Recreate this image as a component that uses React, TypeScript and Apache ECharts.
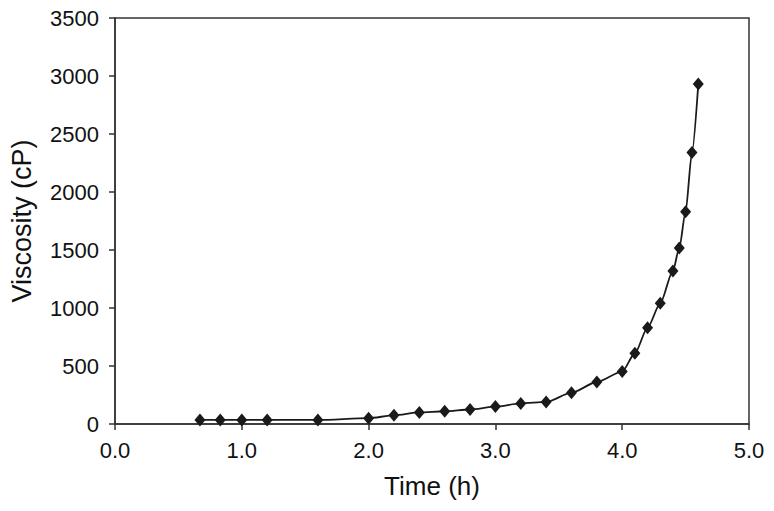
import React, { useEffect, useRef } from "react";
import * as echarts from "echarts";

const timeHours = [0.67, 0.83, 1.0, 1.2, 1.6, 2.0, 2.2, 2.4, 2.6, 2.8, 3.0, 3.2, 3.4, 3.6, 3.8, 4.0, 4.1, 4.2, 4.3, 4.4, 4.45, 4.5, 4.55, 4.6];
const viscosityCP = [35, 35, 35, 35, 35, 50, 75, 100, 110, 125, 150, 177, 190, 270, 362, 452, 610, 830, 1040, 1320, 1517, 1830, 2340, 2930];

const xTitle = "Time (h)";
const yTitle = "Viscosity (cP)";
const FONT = "'Liberation Sans', Arial, Helvetica, sans-serif";

export default function App() {
  const ref = useRef<HTMLDivElement>(null);
  useEffect(() => {
    if (!ref.current) return;
    const chart = echarts.init(ref.current, undefined, { renderer: "svg" });
    const data = timeHours.map((t, i) => [t, viscosityCP[i]]);
    chart.setOption({
      animation: false,
      backgroundColor: "#ffffff",
      grid: {
        left: 114,
        right: 25,
        top: 18,
        bottom: 87,
        show: true,
        borderColor: "#333333",
        borderWidth: 1.5,
        containLabel: false,
      },
      xAxis: {
        type: "value",
        min: 0,
        max: 5,
        interval: 1,
        name: xTitle,
        nameLocation: "middle",
        nameGap: 49,
        nameTextStyle: { fontFamily: FONT, fontSize: 26, color: "#111" },
        axisLine: { show: true, lineStyle: { color: "#333", width: 1.5 } },
        axisTick: { show: true, inside: false, length: 6, lineStyle: { color: "#333", width: 1.5 } },
        axisLabel: {
          fontFamily: FONT,
          fontSize: 22,
          color: "#111",
          margin: 15,
          formatter: (v: number) => v.toFixed(1),
        },
        splitLine: { show: false },
      },
      yAxis: {
        type: "value",
        min: 0,
        max: 3500,
        interval: 500,
        name: yTitle,
        nameLocation: "middle",
        nameGap: 80,
        nameTextStyle: { fontFamily: FONT, fontSize: 27, color: "#111" },
        axisLine: { show: true, lineStyle: { color: "#333", width: 1.5 } },
        axisTick: { show: true, inside: false, length: 6, lineStyle: { color: "#333", width: 1.5 } },
        axisLabel: {
          fontFamily: FONT,
          fontSize: 22,
          color: "#111",
          margin: 16,
          formatter: (v: number) => String(v),
        },
        splitLine: { show: false },
      },
      series: [
        {
          type: "line",
          data,
          smooth: 0.25,
          smoothMonotone: "x",
          symbol: "diamond",
          symbolSize: [11, 13],
          itemStyle: { color: "#1a1a1a" },
          lineStyle: { color: "#1a1a1a", width: 1.8 },
        },
      ],
    });
    return () => chart.dispose();
  }, []);
  return (
    <div
      ref={ref}
      style={{ position: "fixed", left: 0, top: 0, width: 774, height: 511 }}
    />
  );
}
